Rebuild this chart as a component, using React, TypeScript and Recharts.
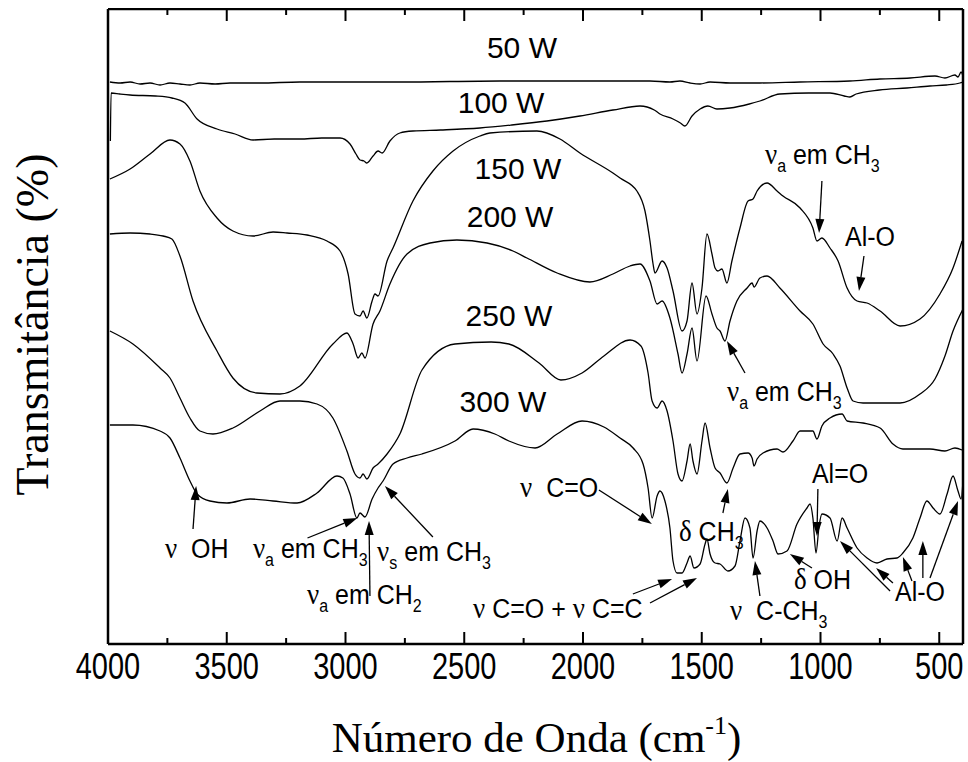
import React from 'react';
import { LineChart, Line, XAxis, YAxis, ReferenceLine, ReferenceDot } from 'recharts';

// wavenumber (cm-1), transmittance (arbitrary offset units)
const s50W: [number, number][] = [
  [3992, 562], [3949, 561], [3907, 562], [3865, 560], [3823, 561], [3781, 559], [3739, 561], [3697, 560],
  [3655, 559], [3613, 561], [3549, 560], [3486, 561], [3360, 561], [3192, 562], [2771, 562], [2350, 563],
  [1928, 563], [1718, 563], [1634, 562], [1592, 563], [1549, 561], [1507, 560], [1465, 562], [1381, 561],
  [1255, 561], [1086, 562], [876, 563], [750, 565], [623, 566], [518, 568], [476, 566], [434, 569],
  [421, 567], [408, 572], [400, 568],
];

const s100W: [number, number][] = [
  [3990, 503], [3987, 551], [3950, 550], [3907, 549], [3800, 548], [3731, 546], [3676, 541], [3625, 525],
  [3541, 515], [3465, 510], [3389, 504], [3300, 505], [3192, 505], [3100, 506], [3023, 506], [2981, 500],
  [2956, 490], [2939, 484], [2922, 483], [2910, 481], [2884, 488], [2863, 493], [2846, 491], [2813, 503],
  [2771, 511], [2716, 513], [2600, 514], [2434, 516], [2300, 519], [2152, 523], [2013, 528], [1874, 534],
  [1760, 538], [1700, 534], [1676, 530], [1621, 525], [1590, 521], [1571, 518], [1541, 528], [1507, 535],
  [1474, 538], [1436, 535], [1381, 536], [1300, 540], [1255, 543], [1171, 550], [1050, 551], [960, 551],
  [900, 548], [876, 547], [850, 550], [752, 554], [636, 556], [539, 558], [470, 559], [413, 561], [400, 562],
];

const s150W: [number, number][] = [
  [3992, 465], [3907, 475], [3823, 490], [3739, 504], [3697, 500], [3655, 483], [3613, 453], [3541, 426],
  [3474, 413], [3389, 408], [3305, 412], [3246, 411], [3162, 409], [3078, 403], [3023, 393], [2989, 370],
  [2960, 330], [2939, 328], [2926, 333], [2910, 326], [2888, 343], [2876, 350], [2863, 348], [2825, 383],
  [2800, 396], [2716, 443], [2632, 473], [2547, 493], [2434, 508], [2392, 511], [2194, 513], [2097, 505],
  [2013, 491], [1874, 471], [1844, 466], [1773, 453], [1739, 433], [1718, 403], [1705, 380], [1697, 371],
  [1667, 383], [1646, 376], [1621, 353], [1583, 313], [1562, 323], [1541, 361], [1520, 330], [1499, 356],
  [1478, 410], [1457, 390], [1444, 376], [1432, 373], [1415, 375], [1394, 361], [1373, 383], [1339, 416],
  [1305, 443], [1284, 445], [1267, 453], [1225, 461], [1183, 453], [1158, 448], [1086, 436], [1032, 416],
  [1015, 403], [994, 406], [960, 396], [926, 383], [888, 356], [846, 343], [804, 341], [749, 333],
  [665, 318], [581, 325], [497, 350], [442, 376], [404, 403],
];

const s200W: [number, number][] = [
  [3992, 410], [3907, 411], [3823, 410], [3768, 408], [3731, 405], [3697, 388], [3642, 343], [3541, 293],
  [3474, 266], [3373, 251], [3276, 250], [3192, 258], [3053, 300], [2994, 311], [2968, 300], [2947, 286],
  [2931, 291], [2918, 286], [2884, 320], [2855, 333], [2813, 360], [2741, 390], [2644, 401], [2531, 404],
  [2404, 401], [2295, 393], [2236, 386], [2109, 371], [1971, 362], [1874, 370], [1802, 378], [1760, 380],
  [1718, 363], [1688, 340], [1667, 343], [1634, 326], [1600, 290], [1583, 271], [1562, 290], [1541, 316],
  [1520, 283], [1482, 348], [1457, 330], [1436, 316], [1423, 313], [1402, 303], [1381, 323], [1352, 343],
  [1309, 356], [1288, 361], [1280, 357], [1255, 366], [1225, 368], [1171, 356], [1086, 333], [1032, 320],
  [989, 300], [947, 290], [918, 278], [888, 256], [863, 243], [821, 241], [749, 241], [665, 241],
  [581, 250], [518, 265], [476, 288], [442, 313], [400, 335],
];

const s250W: [number, number][] = [
  [3992, 313], [3895, 300], [3781, 276], [3739, 266], [3697, 246], [3655, 226], [3613, 213], [3558, 210],
  [3474, 216], [3360, 233], [3276, 243], [3192, 243], [3120, 240], [3053, 226], [2994, 193], [2960, 170],
  [2939, 166], [2926, 170], [2910, 165], [2884, 176], [2863, 180], [2825, 190], [2771, 210], [2678, 274],
  [2539, 300], [2387, 302], [2312, 300], [2185, 281], [2093, 264], [2004, 271], [1912, 288], [1802, 304],
  [1756, 298], [1726, 271], [1709, 243], [1688, 236], [1667, 243], [1646, 233], [1621, 203], [1600, 170],
  [1583, 163], [1562, 183], [1549, 200], [1537, 183], [1520, 170], [1499, 203], [1486, 221], [1465, 196],
  [1444, 176], [1423, 171], [1394, 161], [1368, 176], [1339, 190], [1305, 191], [1288, 186], [1280, 178],
  [1267, 185], [1242, 191], [1183, 195], [1158, 192], [1116, 203], [1086, 213], [1032, 213], [1015, 205],
  [994, 218], [960, 226], [909, 230], [888, 223], [821, 221], [749, 216], [695, 200], [653, 195],
  [539, 195], [476, 193], [434, 196], [404, 194],
];

const s300W: [number, number][] = [
  [3992, 219], [3895, 219], [3781, 213], [3739, 206], [3697, 186], [3655, 163], [3625, 150], [3571, 143],
  [3499, 141], [3402, 145], [3305, 143], [3204, 141], [3120, 151], [3036, 168], [3011, 166], [2981, 150],
  [2952, 126], [2939, 131], [2918, 127], [2888, 145], [2863, 156], [2842, 163], [2800, 180], [2741, 186],
  [2678, 190], [2539, 203], [2463, 215], [2371, 210], [2312, 203], [2202, 196], [2109, 210], [2004, 223],
  [1912, 217], [1844, 206], [1789, 196], [1747, 180], [1726, 156], [1709, 126], [1688, 148], [1676, 153],
  [1655, 143], [1634, 116], [1621, 83], [1604, 71], [1583, 71], [1562, 81], [1549, 88], [1533, 76],
  [1507, 80], [1486, 100], [1478, 105], [1465, 90], [1444, 81], [1423, 80], [1390, 73], [1360, 78],
  [1339, 103], [1318, 126], [1297, 116], [1284, 86], [1267, 113], [1255, 123], [1225, 116], [1200, 103],
  [1179, 90], [1141, 93], [1099, 120], [1057, 136], [1044, 140], [1032, 126], [1019, 91], [1006, 118],
  [994, 130], [960, 126], [930, 103], [909, 126], [888, 116], [846, 96], [804, 86], [762, 81],
  [720, 85], [678, 86], [653, 91], [611, 106], [581, 126], [552, 143], [526, 136], [497, 130],
  [467, 150], [442, 168], [421, 153], [408, 145], [400, 163],
];

const spectra = [s50W, s100W, s150W, s200W, s250W, s300W];

const majorTicks = [4000, 3500, 3000, 2500, 2000, 1500, 1000, 500];
const minorTicks = [3750, 3250, 2750, 2250, 1750, 1250, 750];

// curve names: [wavenumber, transmittance, text]
const powerLabels: [number, number, string][] = [
  [2257, 586, '50 W'],
  [2345, 531, '100 W'],
  [2274, 465, '150 W'],
  [2307, 417, '200 W'],
  [2312, 318, '250 W'],
  [2337, 232, '300 W'],
];

// band notes: pieces are [text, kind] with kind n=normal, g=greek, s=subscript
type Piece = [string, 'n' | 'g' | 's'];
const bandNotes: { w: number; t: number; parts: Piece[] }[] = [
  { w: 1234, t: 480, parts: [['ν', 'g'], ['a', 's'], [' em CH', 'n'], ['3', 's']] },
  { w: 897, t: 398, parts: [['Al-O', 'n']] },
  { w: 1394, t: 243, parts: [['ν', 'g'], ['a', 's'], [' em CH', 'n'], ['3', 's']] },
  { w: 3760, t: 86, parts: [['ν', 'g'], ['  OH', 'n']] },
  { w: 3390, t: 86, parts: [['ν', 'g'], ['a', 's'], [' em CH', 'n'], ['3', 's']] },
  { w: 3162, t: 40, parts: [['ν', 'g'], ['a', 's'], [' em CH', 'n'], ['2', 's']] },
  { w: 2867, t: 83, parts: [['ν', 'g'], ['s', 's'], [' em CH', 'n'], ['3', 's']] },
  { w: 2265, t: 147, parts: [['ν', 'g'], ['  C=O', 'n']] },
  { w: 1596, t: 103, parts: [['δ', 'g'], [' CH', 'n'], ['3', 's']] },
  { w: 2463, t: 26, parts: [['ν', 'g'], [' C=O + ', 'n'], ['ν', 'g'], [' C=C', 'n']] },
  { w: 1381, t: 24, parts: [['ν', 'g'], ['  C-CH', 'n'], ['3', 's']] },
  { w: 1112, t: 55, parts: [['δ', 'g'], [' OH', 'n']] },
  { w: 1036, t: 161, parts: [['Al=O', 'n']] },
  { w: 686, t: 43, parts: [['Al-O', 'n']] },
];

// arrows: [tail w, tail t, head w, head t]
const arrows: [number, number, number, number][] = [
  [994, 463, 1006, 411],
  [817, 388, 838, 353],
  [1318, 271, 1394, 303],
  [3642, 115, 3629, 158],
  [3160, 106, 2950, 126],
  [2897, 48, 2901, 123],
  [2632, 107, 2834, 158],
  [1933, 154, 1710, 120],
  [1411, 131, 1390, 155],
  [1790, 50, 1625, 65],
  [1718, 41, 1520, 66],
  [1255, 48, 1276, 83],
  [1036, 76, 1129, 90],
  [1011, 155, 1015, 108],
  [707, 53, 918, 103],
  [695, 61, 766, 76],
  [615, 63, 653, 87],
  [569, 66, 569, 103],
  [539, 66, 421, 143],
];

const toRows = (s: [number, number][]) => s.map(([w, t]) => ({ w, t }));

const SANS = "Arial, 'Liberation Sans', sans-serif";
const SERIF = "'Times New Roman', 'Liberation Serif', serif";

const Arrow = (p: any) => {
  const { x1, y1, x2, y2 } = p;
  const dx = x2 - x1;
  const dy = y2 - y1;
  const len = Math.hypot(dx, dy) || 1;
  const ux = dx / len;
  const uy = dy / len;
  const hl = 14;
  const hw = 4.5;
  const bx = x2 - ux * hl;
  const by = y2 - uy * hl;
  const pts = `${x2},${y2} ${bx - uy * hw},${by + ux * hw} ${bx + uy * hw},${by - ux * hw}`;
  return (
    <g>
      <line x1={x1} y1={y1} x2={bx} y2={by} stroke="#000" strokeWidth={1.3} />
      <polygon points={pts} fill="#000" />
    </g>
  );
};

const Note = ({ cx, cy, parts }: { cx: number; cy: number; parts: Piece[] }) => {
  let shift = 0;
  return (
    <text
      transform={`translate(${cx},${cy}) scale(1,1.12)`}
      x={0}
      y={0}
      fontFamily={SANS}
      fontSize={25}
      fill="#000"
      style={{ whiteSpace: 'pre' }}
    >
      {parts.map(([s, kind], i) => {
        const target = kind === 's' ? 7 : 0;
        const dy = target - shift;
        shift = target;
        return (
          <tspan
            key={i}
            dy={dy}
            fontSize={kind === 's' ? 16 : kind === 'g' ? 27 : 25}
            fontFamily={kind === 'g' ? SERIF : SANS}
          >
            {s}
          </tspan>
        );
      })}
    </text>
  );
};

const TickLabel = (p: any) => (
  <text
    transform={`translate(${p.x},${p.y + 35}) scale(1,1.3)`}
    x={0}
    y={0}
    textAnchor="middle"
    fontFamily={SANS}
    fontSize={29}
    fill="#000"
  >
    {p.payload.value}
  </text>
);

const XTitle = (p: any) => {
  const vb = p.viewBox;
  return (
    <text x={vb.x + vb.width / 2 + 1} y={vb.y + 108} textAnchor="middle" fontFamily={SERIF} fontSize={43} fill="#000">
      Número de Onda (cm
      <tspan fontSize={26} dy={-18}>-1</tspan>
      <tspan dy={18}>)</tspan>
    </text>
  );
};

const YTitle = (p: any) => {
  const vb = p.viewBox;
  const cx = 40;
  const cy = vb.y + vb.height / 2 - 2;
  return (
    <text
      x={cx}
      y={cy}
      transform={`rotate(-90, ${cx}, ${cy})`}
      textAnchor="middle"
      fontFamily={SERIF}
      fontSize={46}
      fill="#000"
    >
      Transmitância (%)
    </text>
  );
};

export default function App() {
  return (
    <div style={{ position: 'absolute', left: 8, top: 8 }}>
      <LineChart width={960} height={754} margin={{ top: 1, right: 5, bottom: 0, left: 0 }}>
        <XAxis
          dataKey="w"
          type="number"
          domain={[400, 4000]}
          reversed
          allowDataOverflow
          ticks={majorTicks}
          interval={0}
          tick={<TickLabel />}
          tickLine={false}
          axisLine={false}
          tickSize={0}
          tickMargin={0}
          height={118}
          label={<XTitle />}
        />
        <YAxis
          type="number"
          domain={[0, 635]}
          allowDataOverflow
          width={100}
          tick={false}
          tickLine={false}
          axisLine={false}
          label={<YTitle />}
        />
        {spectra.map((s, i) => (
          <Line
            key={i}
            data={toRows(s)}
            dataKey="t"
            type="monotone"
            stroke="#000"
            strokeWidth={1.3}
            dot={false}
            activeDot={false}
            isAnimationActive={false}
          />
        ))}
        {majorTicks.map((w) => (
          <ReferenceLine key={'bM' + w} segment={[{ x: w, y: 0 }, { x: w, y: 12 }]} stroke="#000" strokeWidth={2} />
        ))}
        {majorTicks.map((w) => (
          <ReferenceLine key={'tM' + w} segment={[{ x: w, y: 635 }, { x: w, y: 623 }]} stroke="#000" strokeWidth={2} />
        ))}
        {minorTicks.map((w) => (
          <ReferenceLine key={'bm' + w} segment={[{ x: w, y: 0 }, { x: w, y: 6 }]} stroke="#000" strokeWidth={2} />
        ))}
        {minorTicks.map((w) => (
          <ReferenceLine key={'tm' + w} segment={[{ x: w, y: 635 }, { x: w, y: 629 }]} stroke="#000" strokeWidth={2} />
        ))}
        <ReferenceLine y={0} stroke="#000" strokeWidth={2.5} />
        <ReferenceLine y={635} stroke="#000" strokeWidth={2.5} />
        <ReferenceLine x={4000} stroke="#000" strokeWidth={2.5} />
        <ReferenceLine x={400} stroke="#000" strokeWidth={2.5} />
        {arrows.map(([w1, t1, w2, t2], i) => (
          <ReferenceLine key={'a' + i} segment={[{ x: w1, y: t1 }, { x: w2, y: t2 }]} shape={Arrow} />
        ))}
        {powerLabels.map(([w, t, s]) => (
          <ReferenceDot
            key={s}
            x={w}
            y={t}
            r={1}
            shape={(p: any) => (
              <text x={p.cx} y={p.cy} textAnchor="middle" fontFamily={SANS} fontSize={30} fill="#000">
                {s}
              </text>
            )}
          />
        ))}
        {bandNotes.map((n, i) => (
          <ReferenceDot
            key={'n' + i}
            x={n.w}
            y={n.t}
            r={1}
            shape={(p: any) => <Note cx={p.cx} cy={p.cy} parts={n.parts} />}
          />
        ))}
      </LineChart>
    </div>
  );
}
